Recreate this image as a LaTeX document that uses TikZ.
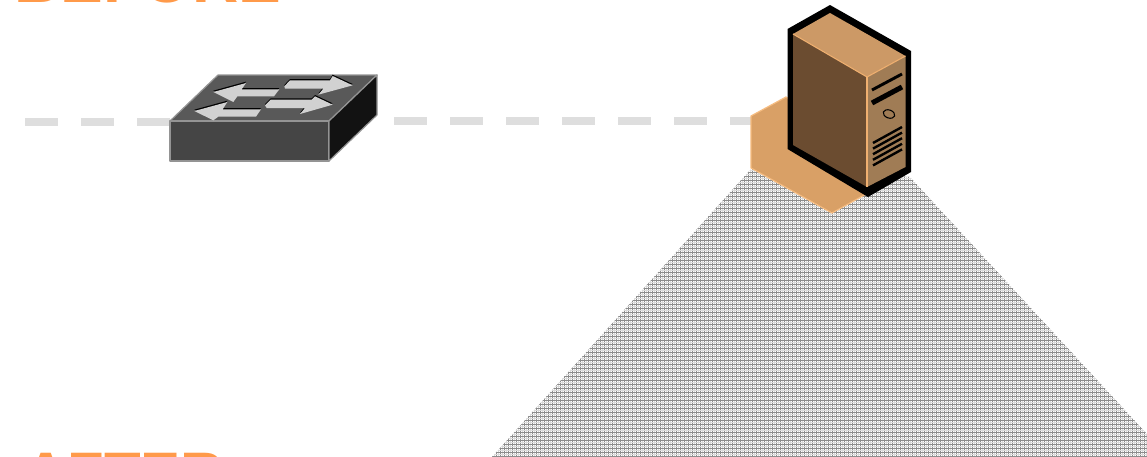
\documentclass[tikz,border=0pt]{standalone}
\usepackage{fontspec}
\setmainfont{Liberation Sans}
\definecolor{orangetxt}{HTML}{FF9A4A}
\definecolor{hexfill}{HTML}{D9A066}
\definecolor{hexedge}{HTML}{F6BC80}
\definecolor{srvtop}{HTML}{CC9966}
\definecolor{srvleft}{HTML}{6B4C30}
\definecolor{srvright}{HTML}{A07C55}
\definecolor{srvedge}{HTML}{F0B070}
\tikzset{
  heading/.style={anchor=base west,inner sep=0pt,text=orangetxt,font=\fontsize{45}{45}\selectfont\bfseries},
  link/.style={draw=black!13,line width=5.4pt,dash pattern=on 24.75pt off 17.25pt},
  swface/.style={draw=black!42,line width=0.9pt,line join=round},
  swarrow/.style={fill=black!18},
  swshadow/.style={fill=black},
  srvedgeline/.style={draw=srvedge,line width=0.8pt,line join=round},
  slot/.style={draw=black,line cap=butt},
  meshdark/.style={draw=black!45,line width=0.45pt},
  meshlight/.style={draw=black!15,line width=0.45pt},
}
\begin{document}
\begin{tikzpicture}[x=0.75pt,y=-0.75pt]
\useasboundingbox (0,0) rectangle (1147,457);
\clip (0,0) rectangle (1147,457);
\fill[white] (0,0) rectangle (1147,457);
\node[heading,font=\fontsize{48}{48}\selectfont\bfseries] (before) at (14,2.5) {BEFORE};
\node[heading] (after) at (24,494) {AFTER};
% cone
\begin{scope}
\clip (492,457) -- (752,168) -- (910,177) -- (1147,434) -- (1147,457) -- cycle;
\foreach \x in {480,484,...,1147} {\draw[meshdark] (\x,160) -- (\x,457); \draw[meshlight] (\x+2,160) -- (\x+2,457);}
\foreach \y in {160,164,...,457} {\draw[meshdark] (480,\y) -- (1147,\y); \draw[meshlight] (480,\y+2) -- (1147,\y+2);}
\end{scope}
% links
\coordinate (a) at (25,122);
\coordinate (swl) at (172,122);
\coordinate (swr) at (394,121);
\coordinate (srv) at (752,121);
\draw[link] (a) -- (swl);
\draw[link] (swr) -- (srv);
% switch
\draw[swface,fill=black!65] (170,121) -- (218,75) -- (377,75) -- (329,121) -- cycle;
\draw[swface,fill=black!73] (170,121) rectangle (329,161);
\draw[swface,fill=black!93] (329,121) -- (377,75) -- (377,115) -- (329,161) -- cycle;
\begin{scope}[shift={(150,60)},x=0.25pt,y=-0.25pt]
\foreach \s/\d in {swshadow/0,swarrow/4}{
 \begin{scope}[yshift=-\d*0.25pt]
 \path[\s] (190,92) -- (288,65) -- (275,84) -- (388,84) -- (372,105) -- (262,105) -- (250,122) -- cycle;
 \path[\s] (133,149) -- (232,122) -- (218,144) -- (333,144) -- (318,166) -- (205,166) -- (190,177) -- cycle;
 \path[\s] (403,75) -- (420,57) -- (540,57) -- (548,44) -- (608,72) -- (505,100) -- (520,82) -- (405,82) -- cycle;
 \path[\s] (345,132) -- (362,115) -- (485,115) -- (495,105) -- (548,130) -- (450,158) -- (465,140) -- (350,140) -- cycle;
 \end{scope}
}
\end{scope}
% hexagon
\draw[fill=hexfill,draw=hexedge,line width=0.9pt,line join=round] (751,116) -- (786,97) -- (868,150) -- (868,193) -- (832,213) -- (751,168) -- cycle;
% server
\fill[black] (830,5) -- (787.5,29) -- (787.5,149) -- (868,197) -- (911,172) -- (911,51) -- cycle;
\fill[srvtop] (830,13) -- (793,34) -- (867,77) -- (905.5,56) -- cycle;
\fill[srvleft] (793,34) -- (867,77) -- (867,187) -- (793,145) -- cycle;
\fill[srvright] (867,77) -- (905.5,56) -- (905.5,167) -- (867,187) -- cycle;
\path[srvedgeline] (793,34) -- (867,77) -- (905.5,56);
\path[srvedgeline] (867,77) -- (867,187);
\draw[slot,line width=2.2pt] (872,90) -- (902,74);
\draw[slot,line width=3.8pt] (872,103) -- (902,87);
\draw[black,line width=0.8pt,rotate around={-20:(889,114)}] (889,114) ellipse (6 and 4);
\foreach \i in {0,1,2,3,4} {\draw[slot,line width=1.8pt] (873,143+5.6*\i) -- (902,127+5.6*\i);}
\end{tikzpicture}
\end{document}
